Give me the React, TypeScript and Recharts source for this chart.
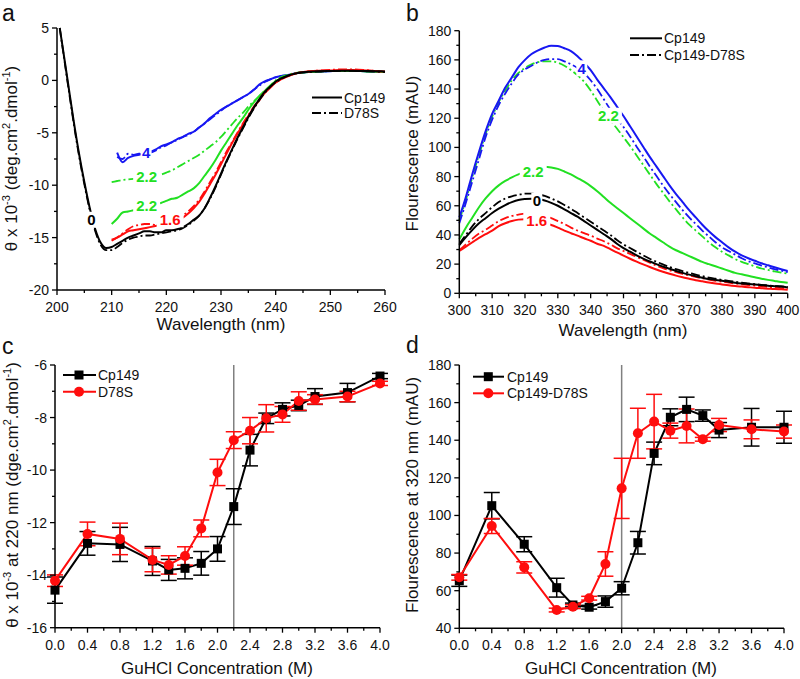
import { LineChart, Line, XAxis, YAxis, ReferenceDot, ReferenceLine, ErrorBar } from "recharts";

const FONT = "'Liberation Sans', Arial, Helvetica, sans-serif";
const BLUE = "#1717f2";
const GREEN = "#22e022";
const RED = "#ff0d0d";
const DASH = "9 3 2 3";
const AXIS = { stroke: "#000", strokeWidth: 1.5 };

// ---- panel a: CD spectra (θ x 10^-3)
const A_WL = [
  200.5, 201, 202, 203, 204, 205, 206, 207, 208, 209, 210, 211, 212, 213, 214, 215, 216, 217, 218, 219, 220,
  221, 222, 223, 224, 225, 226, 227, 228, 229, 230, 231, 232, 233, 234, 235, 236, 237, 238, 239, 240,
  242, 244, 246, 248, 250, 252, 254, 256, 258, 260,
];
const A_CP149_0 = [
  5.0, 3.3, -0.2, -3.7, -6.9, -9.7, -12.2, -14.2, -15.5, -16.0, -15.9,
  -15.6, -15.3, -15.0, -14.8, -14.6, -14.4, -14.4, -14.5, -14.5, -14.3,
  -14.3, -14.2, -14.0, -13.7, -13.3, -12.9, -12.2, -11.2, -10.1, -8.9,
  -7.7, -6.6, -5.5, -4.5, -3.5, -2.6, -1.8, -1.1, -0.6, -0.1,
  0.4, 0.7, 0.82, 0.88, 0.9, 0.92, 0.92, 0.9, 0.88, 0.85,
];
const A_D78S_0 = [
  5.0, 3.2, -0.4, -3.9, -7.1, -9.9, -12.4, -14.4, -15.7, -16.2, -16.2,
  -15.9, -15.5, -15.2, -15.0, -14.9, -14.8, -14.8, -14.7, -14.6, -14.5,
  -14.4, -14.3, -14.1, -13.8, -13.4, -12.9, -12.2, -11.3, -10.2, -9.0,
  -7.8, -6.7, -5.6, -4.6, -3.6, -2.7, -1.9, -1.2, -0.6, -0.2,
  0.4, 0.7, 0.8, 0.85, 0.9, 0.9, 0.9, 0.88, 0.85, 0.8,
];
const A_CP149_16 = [
  null, null, null, null, null, null, null, null, null, null, -15.2,
  -15.0, -14.7, -14.4, -14.3, -14.2, -14.1, -14.0, -13.9, -13.8, -13.7,
  -13.6, -13.4, -13.1, -12.7, -12.2, -11.6, -10.8, -9.9, -9.0, -8.0,
  -7.0, -6.0, -5.1, -4.2, -3.4, -2.6, -1.9, -1.2, -0.7, -0.2,
  0.35, 0.7, 0.85, 0.92, 0.95, 1.0, 1.0, 0.98, 0.9, 0.85,
];
const A_D78S_16 = [
  null, null, null, null, null, null, null, null, null, null, -15.3,
  -15.0, -14.6, -14.2, -13.9, -13.8, -13.7, -13.7, -13.8, -13.7, -13.6,
  -13.4, -13.2, -12.9, -12.5, -12.0, -11.4, -10.6, -9.7, -8.8, -7.8,
  -6.8, -5.9, -5.0, -4.1, -3.3, -2.5, -1.8, -1.1, -0.6, -0.2,
  0.35, 0.7, 0.85, 0.95, 1.0, 1.05, 1.05, 1.0, 0.9, 0.8,
];
const A_CP149_22 = [
  null, null, null, null, null, null, null, null, null, null, -13.7,
  -13.2, -12.6, -12.5, -12.4, -12.3, -12.1, -12.0, -11.8, -11.7, -11.5,
  -11.3, -11.2, -10.9, -10.6, -10.3, -9.8, -9.1, -8.4, -7.6, -6.7,
  -5.9, -5.1, -4.3, -3.6, -2.8, -2.1, -1.5, -1.0, -0.5, -0.1,
  0.4, 0.7, 0.8, 0.85, 0.9, 0.9, 0.9, 0.88, 0.85, 0.8,
];
const A_D78S_22 = [
  null, null, null, null, null, null, null, null, null, null, -9.7,
  -9.6, -9.5, -9.45, -9.4, -9.35, -9.3, -9.2, -9.1, -9.0, -8.8,
  -8.6, -8.3, -8.0, -7.7, -7.4, -7.1, -6.7, -6.3, -5.9, -5.4,
  -4.8, -4.2, -3.6, -3.1, -2.5, -2.0, -1.5, -1.0, -0.5, 0.0,
  0.5, 0.75, 0.85, 0.88, 0.9, 0.9, 0.9, 0.88, 0.85, 0.8,
];
const A_CP149_4 = [
  null, null, null, null, null, null, null, null, null, null, null,
  -6.9, -7.8, -7.4, -7.2, -7.1, -6.9, -6.8, -6.6, -6.3, -6.1,
  -5.9, -5.6, -5.4, -5.1, -4.9, -4.5, -4.1, -3.6, -3.2, -2.8,
  -2.5, -2.2, -1.9, -1.6, -1.3, -0.9, -0.4, -0.1, 0.1, 0.3,
  0.5, 0.7, 0.8, 0.85, 0.88, 0.9, 0.9, 0.88, 0.85, 0.8,
];
const A_D78S_4 = [
  null, null, null, null, null, null, null, null, null, null, null,
  -7.3, -7.5, -7.0, -7.1, -7.0, -6.95, -6.9, -6.7, -6.4, -6.2,
  -5.9, -5.7, -5.4, -5.2, -4.9, -4.5, -4.1, -3.7, -3.3, -2.9,
  -2.5, -2.2, -1.9, -1.6, -1.3, -0.9, -0.5, -0.15, 0.1, 0.3,
  0.5, 0.7, 0.8, 0.85, 0.88, 0.9, 0.9, 0.88, 0.85, 0.8,
];
const A_X_TICKS = [200, 205, 210, 215, 220, 225, 230, 235, 240, 245, 250, 255, 260];
const A_X_MAJOR = [200, 210, 220, 230, 240, 250, 260];
const A_Y_TICKS = [-20, -17.5, -15, -12.5, -10, -7.5, -5, -2.5, 0, 2.5, 5];
const A_Y_MAJOR = [-20, -15, -10, -5, 0, 5];
const A_LABELS = [
  { text: "0", x: 206.3, y: -13.3, color: "#000" },
  { text: "4", x: 216.3, y: -6.85, color: BLUE },
  { text: "2.2", x: 216.4, y: -9.2, color: GREEN },
  { text: "2.2", x: 216.4, y: -11.9, color: GREEN },
  { text: "1.6", x: 220.7, y: -13.25, color: RED },
];

// ---- panel b: fluorescence spectra (mAU)
const B_WL = [
  300, 302, 304, 306, 308, 310, 312, 314, 316, 318, 320, 322, 324, 326, 328, 330, 332, 334, 336, 338,
  340, 342, 344, 346, 348, 350, 352, 354, 356, 358, 360, 362, 364, 366, 368, 370, 372, 374, 376, 378,
  380, 382, 384, 386, 388, 390, 392, 394, 396, 398, 400,
];
const B_CP149_4 = [
  52, 66, 82, 97, 111, 123, 132, 141, 148, 155, 160, 164, 166.5, 168.5, 169.7, 169.5, 168, 166, 162.5, 158,
  153, 146.5, 140.5, 134.5, 128, 121.5, 114.5, 107.5, 100.5, 93.5, 87, 80.5, 74, 68, 62.5, 57, 52, 47, 42.5, 38.5,
  35, 31.5, 28.5, 26, 24, 22.3, 20.6, 19.2, 17.8, 16.5, 15.3,
];
const B_D78S_4 = [
  48, 62, 77, 92, 107, 119, 129, 137, 144, 150, 153.5, 156, 158.5, 160, 160.5, 160.5, 159, 157, 154.5, 151,
  146, 140, 133, 126, 120, 114, 107.5, 100.5, 94, 87, 80.5, 74, 68, 62.5, 57, 52, 47.5, 43, 39, 35,
  31.5, 29, 26.5, 24, 22, 20.5, 19, 17.8, 16.5, 15.5, 14.5,
];
const B_D78S_22 = [
  50, 64, 80, 95, 109, 121, 131, 139, 146, 151, 154.5, 157, 158.5, 159, 159, 158, 156, 153, 149.5, 145,
  139, 132, 125, 118.5, 113, 107, 101, 94.5, 88, 81.5, 75, 69, 63, 57.5, 52, 47, 43, 39, 35, 31.5,
  28.5, 26, 23.5, 21.5, 20, 18.5, 17, 16, 15, 14.2, 13.5,
];
const B_CP149_22 = [
  37, 45, 52, 59, 65, 70, 74, 77, 79.5, 81.5, 83, 84.5, 86, 86.8, 86.3, 85.3, 83.5, 81.5, 79, 76.5,
  73.5, 70, 66, 62, 58.5, 55, 51.5, 48, 44.5, 41, 38, 35, 32, 29.5, 27.5, 25.5, 23.5, 21.5, 20, 18.5,
  17, 15.5, 14, 13, 12, 11, 10, 9.2, 8.5, 7.8, 7.2,
];
const B_D78S_0 = [
  34, 40, 46, 51, 55, 59, 62.5, 65, 66.5, 67.5, 68.3, 68.3, 67.8, 66.8, 65, 63, 60.5, 58, 55, 52,
  49, 46, 43, 40, 36.5, 33.5, 31, 28.5, 26, 23.7, 21.7, 19.8, 18, 16.5, 15.2, 14, 12.8, 11.8, 10.8, 10,
  9.2, 8.5, 7.9, 7.3, 6.8, 6.3, 5.8, 5.4, 5, 4.7, 4.3,
];
const B_CP149_0 = [
  33, 38.5, 43.5, 48, 51.5, 55, 58, 60.5, 62.5, 64, 64.6, 64.8, 64.4, 63.6, 62, 60, 57.5, 55, 52.5, 49.5,
  46.5, 43.5, 40.5, 37.5, 34, 31, 28.5, 26, 23.8, 21.8, 20, 18.3, 16.8, 15.3, 14, 12.8, 11.7, 10.7, 9.8, 9.2,
  8.6, 7.9, 7.3, 6.8, 6.4, 6, 5.6, 5.2, 4.9, 4.6, 4.0,
];
const B_D78S_16 = [
  29.5, 33.5, 37.5, 41, 43.5, 46.5, 49.5, 51.5, 53, 54, 54.6, 54.6, 54, 53, 51.5, 49.5, 47.5, 45, 43, 41.2,
  39.5, 37.5, 35.7, 33.5, 31, 29, 27, 25, 23, 21, 19, 17.3, 15.8, 14.5, 13.3, 12.2, 11.2, 10.3, 9.4, 8.6,
  8, 7.3, 6.7, 6.2, 5.7, 5.3, 4.8, 4.4, 4, 3.6, 3.3,
];
const B_CP149_16 = [
  29, 32, 35, 38, 40.5, 43, 46, 48, 49.5, 50.5, 50.8, 50.5, 49.5, 48, 46.8, 45, 43, 41.2, 39.5, 37.7,
  36, 34, 32.5, 30.3, 28, 25.8, 23.7, 21.7, 19.8, 18, 16.3, 14.8, 13.4, 12.1, 11, 10, 9, 8.2, 7.4, 6.7,
  6.1, 5.5, 5, 4.6, 4.2, 3.8, 3.5, 3.2, 2.9, 2.7, 2.5,
];
const B_X_TICKS = [300, 305, 310, 315, 320, 325, 330, 335, 340, 345, 350, 355, 360, 365, 370, 375, 380, 385, 390, 395, 400];
const B_X_MAJOR = [300, 310, 320, 330, 340, 350, 360, 370, 380, 390, 400];
const B_Y_TICKS = [0, 10, 20, 30, 40, 50, 60, 70, 80, 90, 100, 110, 120, 130, 140, 150, 160, 170, 180];
const B_Y_MAJOR = [0, 20, 40, 60, 80, 100, 120, 140, 160, 180];
const B_LABELS = [
  { text: "4", x: 337.3, y: 154.2, color: BLUE },
  { text: "2.2", x: 345.4, y: 121.7, color: GREEN },
  { text: "2.2", x: 322.5, y: 83.4, color: GREEN },
  { text: "0", x: 323.6, y: 63.5, color: "#000" },
  { text: "1.6", x: 323.6, y: 50.2, color: RED },
];

// ---- panels c and d: GuHCl titrations
const CONC = [0, 0.4, 0.8, 1.2, 1.4, 1.6, 1.8, 2.0, 2.2, 2.4, 2.6, 2.8, 3.0, 3.2, 3.6, 4.0];
const C_CP149 = [-14.57, -12.79, -12.83, -13.46, -13.8, -13.74, -13.55, -13.0, -11.39, -9.24, -8.03, -7.69, -7.54, -7.2, -7.05, -6.42];
const C_CP149_ERR = [0.5, 0.45, 0.65, 0.55, 0.4, 0.4, 0.45, 0.47, 0.68, 0.6, 0.2, 0.25, 0.2, 0.3, 0.35, 0.1];
const C_D78S = [-14.21, -12.43, -12.62, -13.42, -13.61, -13.27, -12.22, -10.09, -8.86, -8.5, -8.03, -7.88, -7.37, -7.31, -7.2, -6.7];
const C_D78S_ERR = [0.22, 0.45, 0.6, 0.45, 0.35, 0.35, 0.32, 0.5, 0.32, 0.5, 0.52, 0.3, 0.35, 0.18, 0.2, 0.08];
const D_CP149 = [65.3, 105.2, 84.7, 61.6, 52.4, 51.2, 54.2, 61.3, 85.5, 133.0, 152.2, 156.4, 153.1, 145.4, 146.9, 146.9];
const D_CP149_ERR = [3, 7, 4, 5, 1, 1, 3, 3.5, 6, 6, 4.5, 6.5, 3, 4, 10, 8.5];
const D_D78S = [67.1, 94.4, 72.4, 49.7, 51.5, 56, 74.2, 114.4, 143.7, 149.9, 145.1, 147.6, 140.5, 148.1, 145.8, 144.6];
const D_D78S_ERR = [1.5, 4, 3, 1, 1, 1, 6.5, 16, 13.3, 14.5, 4, 9, 1, 3.5, 5, 3.5];
const CONC_TICKS = [0, 0.2, 0.4, 0.6, 0.8, 1.0, 1.2, 1.4, 1.6, 1.8, 2.0, 2.2, 2.4, 2.6, 2.8, 3.0, 3.2, 3.4, 3.6, 3.8, 4.0];
const CONC_MAJOR = [0, 0.4, 0.8, 1.2, 1.6, 2.0, 2.4, 2.8, 3.2, 3.6, 4.0];
const C_Y_TICKS = [-16, -15, -14, -13, -12, -11, -10, -9, -8, -7, -6];
const C_Y_MAJOR = [-16, -14, -12, -10, -8, -6];
const D_Y_TICKS = [40, 50, 60, 70, 80, 90, 100, 110, 120, 130, 140, 150, 160, 170, 180];
const D_Y_MAJOR = [40, 60, 80, 100, 120, 140, 160, 180];

const isIn = (list: number[], v: number) => list.some((m) => Math.abs(m - v) < 1e-6);

function bottomTick(majors: number[], fmt: (v: number) => string) {
  return (props: any) => {
    const { x, y, payload } = props;
    const axisY = y - 8;
    const major = isIn(majors, payload.value);
    return (
      <g>
        <line x1={x} x2={x} y1={axisY} y2={axisY + (major ? 5 : 3)} stroke="#000" strokeWidth={1.3} />
        {major && (
          <text x={x} y={axisY + 22} textAnchor="middle" fontSize={14} fontFamily={FONT} fill="#111">
            {fmt(payload.value)}
          </text>
        )}
      </g>
    );
  };
}

function leftTick(majors: number[], fmt: (v: number) => string) {
  return (props: any) => {
    const { x, y, payload } = props;
    const axisX = x + 8;
    const major = isIn(majors, payload.value);
    return (
      <g>
        <line x1={axisX - (major ? 5 : 3)} x2={axisX} y1={y} y2={y} stroke="#000" strokeWidth={1.3} />
        {major && (
          <text x={axisX - 8} y={y + 5} textAnchor="end" fontSize={14} fontFamily={FONT} fill="#111">
            {fmt(payload.value)}
          </text>
        )}
      </g>
    );
  };
}

function curveLabel(text: string, color: string) {
  return (props: any) => {
    const { cx, cy } = props;
    const w = text.length * 8 + 3;
    return (
      <g>
        <rect x={cx - w / 2} y={cy - 8} width={w} height={16} fill="#fff" />
        <text x={cx} y={cy + 5.5} textAnchor="middle" fontSize={15} fontWeight="bold" fontFamily={FONT} fill={color}>
          {text}
        </text>
      </g>
    );
  };
}

const squareDot = (p: any) => (
  <rect key={`sq-${p.index}`} x={p.cx - 4.5} y={p.cy - 4.5} width={9} height={9} fill="#000" />
);

function spectrumLine(key: string, color: string, dashed: boolean) {
  return (
    <Line
      key={key}
      dataKey={key}
      type="monotone"
      stroke={color}
      strokeWidth={dashed ? 1.8 : 2}
      strokeDasharray={dashed ? DASH : undefined}
      dot={false}
      activeDot={false}
      isAnimationActive={false}
    />
  );
}

function PanelA() {
  const rows = A_WL.map((wl, i) => ({
    wl,
    cp0: A_CP149_0[i],
    d0: A_D78S_0[i],
    cp16: A_CP149_16[i],
    d16: A_D78S_16[i],
    cp22: A_CP149_22[i],
    d22: A_D78S_22[i],
    cp4: A_CP149_4[i],
    d4: A_D78S_4[i],
  }));
  return (
    <LineChart width={400} height={340} data={rows} margin={{ top: 28, right: 15, bottom: 20, left: 7 }}>
      <XAxis dataKey="wl" type="number" domain={[200, 260]} ticks={A_X_TICKS} interval={0} height={30}
        tickLine={false} tickSize={6} tickMargin={2} axisLine={AXIS} tick={bottomTick(A_X_MAJOR, String)} />
      <YAxis type="number" domain={[-20, 5]} ticks={A_Y_TICKS} interval={0} width={50}
        tickLine={false} tickSize={6} tickMargin={2} axisLine={AXIS} tick={leftTick(A_Y_MAJOR, String)} />
      {spectrumLine("d4", BLUE, true)}
      {spectrumLine("cp4", BLUE, false)}
      {spectrumLine("d22", GREEN, true)}
      {spectrumLine("cp22", GREEN, false)}
      {spectrumLine("d16", RED, true)}
      {spectrumLine("cp16", RED, false)}
      {spectrumLine("d0", "#000", true)}
      {spectrumLine("cp0", "#000", false)}
      {A_LABELS.map((l, i) => (
        <ReferenceDot key={i} x={l.x} y={l.y} r={0} shape={curveLabel(l.text, l.color)} />
      ))}
    </LineChart>
  );
}

function PanelB() {
  const rows = B_WL.map((wl, i) => ({
    wl,
    cp4: B_CP149_4[i],
    d4: B_D78S_4[i],
    cp22: B_CP149_22[i],
    d22: B_D78S_22[i],
    cp0: B_CP149_0[i],
    d0: B_D78S_0[i],
    cp16: B_CP149_16[i],
    d16: B_D78S_16[i],
  }));
  return (
    <LineChart width={400} height={340} data={rows} margin={{ top: 30.7, right: 12.3, bottom: 16.7, left: 9.3 }}>
      <XAxis dataKey="wl" type="number" domain={[300, 400]} ticks={B_X_TICKS} interval={0} height={30}
        tickLine={false} tickSize={6} tickMargin={2} axisLine={AXIS} tick={bottomTick(B_X_MAJOR, String)} />
      <YAxis type="number" domain={[0, 180]} ticks={B_Y_TICKS} interval={0} width={50}
        tickLine={false} tickSize={6} tickMargin={2} axisLine={AXIS} tick={leftTick(B_Y_MAJOR, String)} />
      {spectrumLine("d16", RED, true)}
      {spectrumLine("cp16", RED, false)}
      {spectrumLine("d0", "#000", true)}
      {spectrumLine("cp0", "#000", false)}
      {spectrumLine("cp22", GREEN, false)}
      {spectrumLine("d22", GREEN, true)}
      {spectrumLine("d4", BLUE, true)}
      {spectrumLine("cp4", BLUE, false)}
      {B_LABELS.map((l, i) => (
        <ReferenceDot key={i} x={l.x} y={l.y} r={0} shape={curveLabel(l.text, l.color)} />
      ))}
    </LineChart>
  );
}

function TitrationChart(props: {
  cp: number[];
  cpErr: number[];
  mut: number[];
  mutErr: number[];
  yDomain: [number, number];
  yTicks: number[];
  yMajor: number[];
  midpoint: number;
  margin: { top: number; right: number; bottom: number; left: number };
}) {
  const rows = CONC.map((c, i) => ({
    c,
    cp: props.cp[i],
    cpErr: props.cpErr[i],
    mut: props.mut[i],
    mutErr: props.mutErr[i],
  }));
  return (
    <LineChart width={400} height={339} data={rows} margin={props.margin}>
      <XAxis dataKey="c" type="number" domain={[0, 4]} ticks={CONC_TICKS} interval={0} height={30}
        tickLine={false} tickSize={6} tickMargin={2} axisLine={AXIS} tick={bottomTick(CONC_MAJOR, (v) => v.toFixed(1))} />
      <YAxis type="number" domain={props.yDomain} ticks={props.yTicks} interval={0} width={50}
        tickLine={false} tickSize={6} tickMargin={2} axisLine={AXIS} tick={leftTick(props.yMajor, String)} />
      <ReferenceLine x={props.midpoint} stroke="#808080" strokeWidth={1.5} />
      <Line dataKey="cp" type="linear" stroke="#000" strokeWidth={2} dot={squareDot} activeDot={false} isAnimationActive={false}>
        <ErrorBar dataKey="cpErr" width={8} stroke="#000" strokeWidth={1.5} direction="y" />
      </Line>
      <Line dataKey="mut" type="linear" stroke={RED} strokeWidth={2} dot={{ r: 5, fill: RED, stroke: RED, strokeWidth: 0 }}
        activeDot={false} isAnimationActive={false}>
        <ErrorBar dataKey="mutErr" width={8} stroke={RED} strokeWidth={1.5} direction="y" />
      </Line>
    </LineChart>
  );
}

function Overlay() {
  const t = { fontFamily: FONT, fill: "#111" };
  return (
    <svg width={800} height={679} style={{ position: "absolute", left: 0, top: 0, pointerEvents: "none" }}>
      {/* panel letters */}
      <text x={2} y={21} fontSize={23} {...t}>a</text>
      <text x={406} y={21} fontSize={23} {...t}>b</text>
      <text x={2} y={354} fontSize={23} {...t}>c</text>
      <text x={406} y={353} fontSize={23} {...t}>d</text>

      {/* axis titles */}
      <text x={221} y={330} fontSize={17} textAnchor="middle" {...t}>Wavelength (nm)</text>
      <text x={623} y={336} fontSize={17} textAnchor="middle" {...t}>Wavelength (nm)</text>
      <text x={217} y={674} fontSize={17} textAnchor="middle" {...t}>GuHCl Concentration (M)</text>
      <text x={621} y={674} fontSize={17} textAnchor="middle" {...t}>GuHCl Concentration (M)</text>

      <text transform="translate(17,158.5) rotate(-90)" fontSize={17} textAnchor="middle" {...t}>
        {"θ x 10"}
        <tspan dy={-7} fontSize={11}>-3</tspan>
        <tspan dy={7}>{" (deg.cm"}</tspan>
        <tspan dy={-7} fontSize={11}>2</tspan>
        <tspan dy={7}>.dmol</tspan>
        <tspan dy={-7} fontSize={11}>-1</tspan>
        <tspan dy={7}>)</tspan>
      </text>
      <text transform="translate(418,153.5) rotate(-90)" fontSize={17} textAnchor="middle" {...t}>
        Flourescence (mAU)
      </text>
      <text transform="translate(18,495) rotate(-90)" fontSize={17} textAnchor="middle" {...t}>
        {"θ x 10"}
        <tspan dy={-7} fontSize={11}>-3</tspan>
        <tspan dy={7}>{" at 220 nm (dge.cm"}</tspan>
        <tspan dy={-7} fontSize={11}>2</tspan>
        <tspan dy={7}>.dmol</tspan>
        <tspan dy={-7} fontSize={11}>-1</tspan>
        <tspan dy={7}>)</tspan>
      </text>
      <text transform="translate(418,495) rotate(-90)" fontSize={17} textAnchor="middle" {...t}>
        Flourescence at 320 nm (mAU)
      </text>

      {/* legend a */}
      <line x1={312} x2={342} y1={97.5} y2={97.5} stroke="#000" strokeWidth={2} />
      <text x={344} y={102.5} fontSize={14} {...t}>Cp149</text>
      <line x1={312} x2={342} y1={113} y2={113} stroke="#000" strokeWidth={2} strokeDasharray={DASH} />
      <text x={344} y={118} fontSize={14} {...t}>D78S</text>

      {/* legend b */}
      <line x1={630} x2={662} y1={38.3} y2={38.3} stroke="#000" strokeWidth={2} />
      <text x={664} y={43.3} fontSize={14} {...t}>Cp149</text>
      <line x1={630} x2={662} y1={55} y2={55} stroke="#000" strokeWidth={2} strokeDasharray={DASH} />
      <text x={664} y={60} fontSize={14} {...t}>Cp149-D78S</text>

      {/* legend c */}
      <line x1={63} x2={96} y1={375} y2={375} stroke="#000" strokeWidth={2} />
      <rect x={74.5} y={370.5} width={9} height={9} fill="#000" />
      <text x={98} y={380} fontSize={14} {...t}>Cp149</text>
      <line x1={63} x2={96} y1={391.7} y2={391.7} stroke={RED} strokeWidth={2} />
      <circle cx={79} cy={391.7} r={5} fill={RED} />
      <text x={98} y={396.7} fontSize={14} {...t}>D78S</text>

      {/* legend d */}
      <line x1={473} x2={504} y1={376.7} y2={376.7} stroke="#000" strokeWidth={2} />
      <rect x={483.8} y={372.2} width={9} height={9} fill="#000" />
      <text x={507} y={381.7} fontSize={14} {...t}>Cp149</text>
      <line x1={473} x2={504} y1={393.3} y2={393.3} stroke={RED} strokeWidth={2} />
      <circle cx={488.3} cy={393.3} r={5} fill={RED} />
      <text x={507} y={398.3} fontSize={14} {...t}>Cp149-D78S</text>
    </svg>
  );
}

export default function App() {
  return (
    <div style={{ position: "absolute", left: 0, top: 0, width: 800, height: 679, background: "#fff", fontFamily: FONT }}>
      <div style={{ position: "absolute", left: 0, top: 0 }}>
        <PanelA />
      </div>
      <div style={{ position: "absolute", left: 400, top: 0 }}>
        <PanelB />
      </div>
      <div style={{ position: "absolute", left: 0, top: 340 }}>
        <TitrationChart cp={C_CP149} cpErr={C_CP149_ERR} mut={C_D78S} mutErr={C_D78S_ERR}
          yDomain={[-16, -6]} yTicks={C_Y_TICKS} yMajor={C_Y_MAJOR} midpoint={2.2}
          margin={{ top: 25, right: 20, bottom: 21.3, left: 5 }} />
      </div>
      <div style={{ position: "absolute", left: 400, top: 340 }}>
        <TitrationChart cp={D_CP149} cpErr={D_CP149_ERR} mut={D_D78S} mutErr={D_D78S_ERR}
          yDomain={[40, 180]} yTicks={D_Y_TICKS} yMajor={D_Y_MAJOR} midpoint={2.0}
          margin={{ top: 25, right: 16, bottom: 20.7, left: 9.3 }} />
      </div>
      <Overlay />
    </div>
  );
}
